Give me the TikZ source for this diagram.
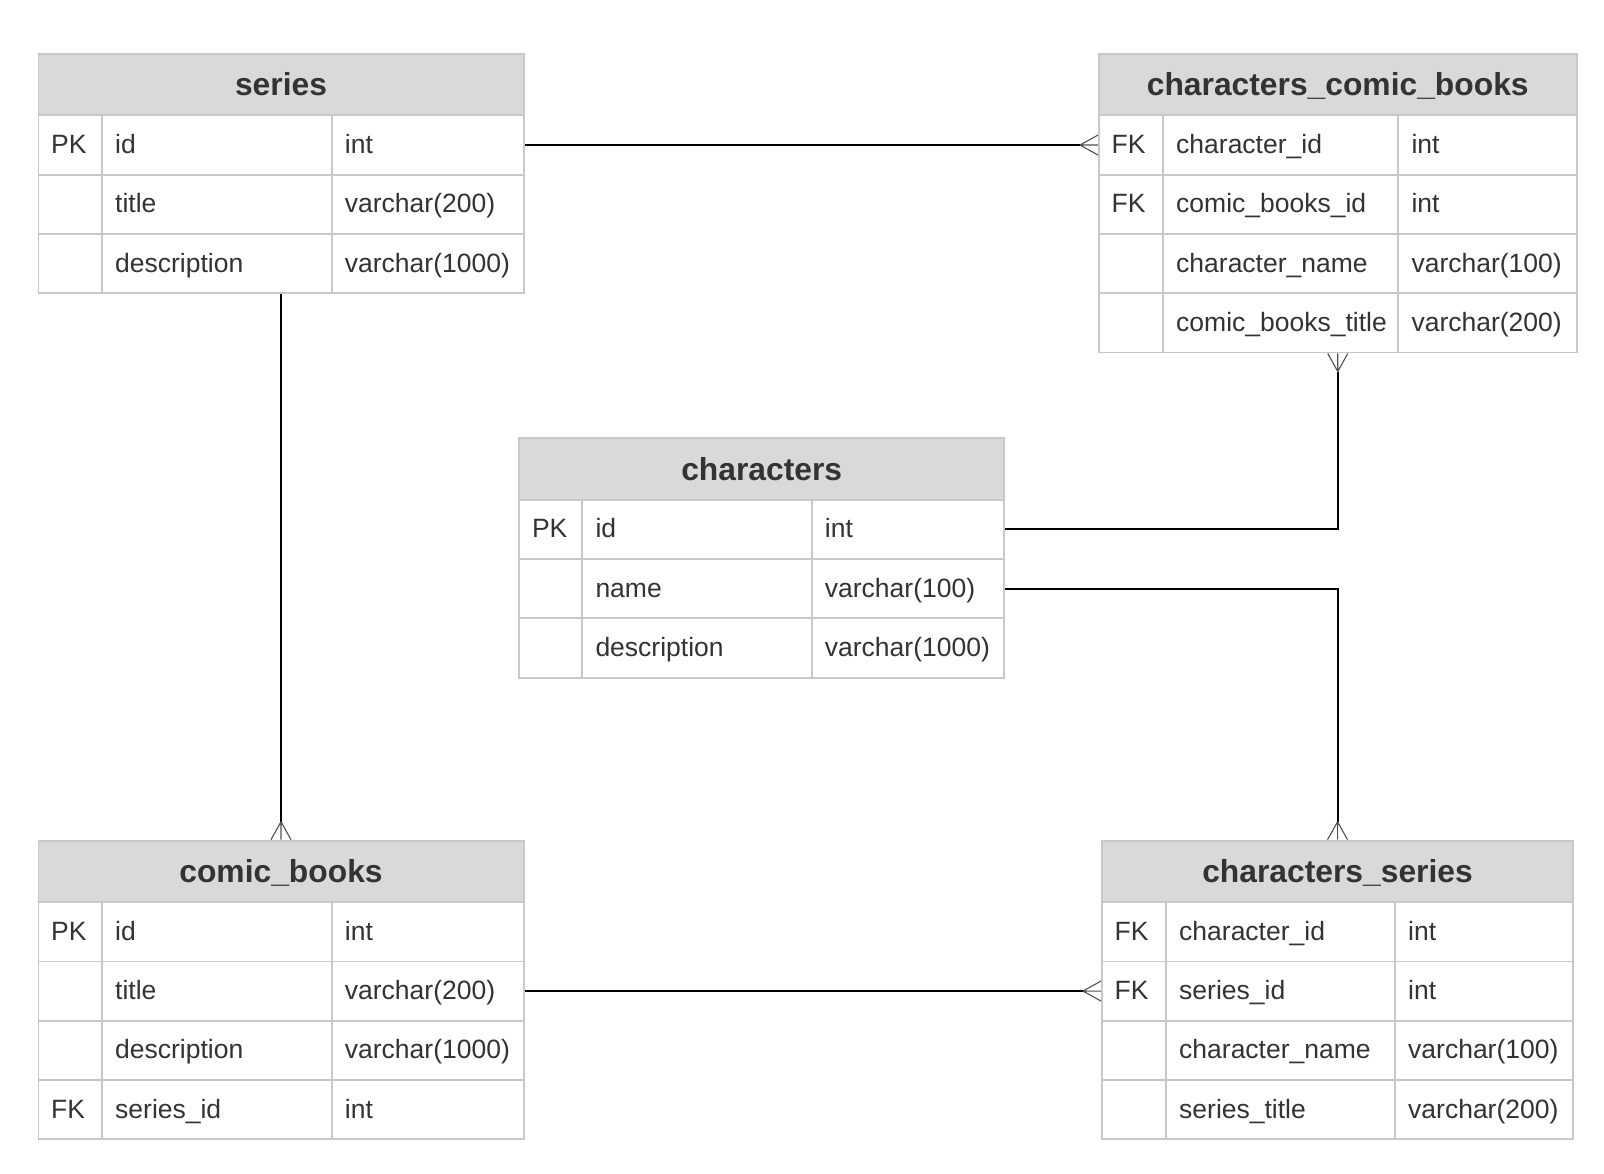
\documentclass[tikz,border=0pt]{standalone}
\usepackage{fontspec}
\setmainfont{Liberation Sans}
\definecolor{bordergray}{RGB}{200,200,200}
\definecolor{hdrgray}{RGB}{217,217,217}
\definecolor{txt}{RGB}{51,51,51}
\definecolor{footgray}{RGB}{80,80,80}
\tikzset{
  hdrbox/.style={draw=bordergray, fill=hdrgray, line width=1.8pt, anchor=north west, inner sep=0pt,
    font=\fontsize{31.8}{36}\selectfont\bfseries, text=txt, text height=22.7pt, text depth=0pt},
  rowbox/.style={draw=bordergray, fill=white, line width=1.8pt, anchor=north west, inner sep=0pt,
    minimum height=59.3pt},
  divider/.style={draw=bordergray, line width=1.8pt},
  celltext/.style={anchor=west, inner sep=0pt, font=\fontsize{26.5}{30}\selectfont, text=txt,
    text height=19pt, text depth=0pt},
  conn/.style={line width=2pt, black},
  foot/.style={line width=1.1pt, footgray},
}
% #1 name, #2 x0, #3 col1, #4 col2, #5 x1, #6 ytop, #7 title, #8 rows
\newcommand\ertable[8]{%
  \pgfmathsetmacro\tabw{#5-#2}%
  \node[hdrbox, minimum width=\tabw pt, minimum height=61.5pt] (#1h) at (#2,#6) {#7};
  \foreach \k/\f/\t [count=\i] in {#8} {
    \pgfmathsetmacro\rtop{#6+61.5+(\i-1)*59.3}
    \pgfmathsetmacro\rbot{#6+61.5+\i*59.3}
    \pgfmathsetmacro\rmid{#6+61.5+(\i-0.5)*59.3}
    \node[rowbox, minimum width=\tabw pt] (#1\i) at (#2,\rtop) {};
    \draw[divider] (#3,\rtop) -- (#3,\rbot) (#4,\rtop) -- (#4,\rbot);
    \node[celltext] (#1k\i) at ({#2+13.5},\rmid) {\k};
    \node[celltext] (#1f\i) at ({#3+13},\rmid) {\f};
    \node[celltext] (#1t\i) at ({#4+13},\rmid) {\t};
  }
}
\begin{document}
\begin{tikzpicture}[x=1pt,y=-1pt]
\fill[white] (0,0) rectangle (1604,1174);
\useasboundingbox (0,0) rectangle (1604,1174);

\ertable{s}{37.5}{102}{331.7}{522.7}{53}{series}{PK/id/int, /title/varchar(200), /description/varchar(1000)}
\ertable{c}{1098}{1163}{1398.3}{1575.7}{53}{characters\_comic\_books}{FK/character\_id/int, FK/comic\_books\_id/int, /character\_name/varchar(100), /comic\_books\_title/varchar(200)}
\ertable{h}{518.3}{582.3}{811.7}{1003.3}{437.3}{characters}{PK/id/int, /name/varchar(100), /description/varchar(1000)}
\ertable{b}{37.5}{102}{331.7}{522.7}{839.7}{comic\_books}{PK/id/int, /title/varchar(200), /description/varchar(1000), FK/series\_id/int}
\ertable{r}{1101}{1166}{1395}{1572.3}{839.7}{characters\_series}{FK/character\_id/int, FK/series\_id/int, /character\_name/varchar(100), /series\_title/varchar(200)}

% series.id -> characters_comic_books
\coordinate (f1) at ([xshift=-18pt]c1.west);
\draw[conn] (s1.east) -- (f1);
\draw[foot] (f1) -- ([yshift=10pt]c1.west) (f1) -- (c1.west) (f1) -- ([yshift=-10pt]c1.west);

% series -> comic_books
\coordinate (f2) at ([yshift=18pt]bh.north);
\draw[conn] (s3.south) -- (f2);
\draw[foot] (f2) -- ([xshift=-10pt]bh.north) (f2) -- (bh.north) (f2) -- ([xshift=10pt]bh.north);

% characters.id -> characters_comic_books
\coordinate (f3) at ([yshift=-18pt]c4.south);
\draw[conn] (h1.east) -| (f3);
\draw[foot] (f3) -- ([xshift=-10pt]c4.south) (f3) -- (c4.south) (f3) -- ([xshift=10pt]c4.south);

% characters.name -> characters_series
\coordinate (f4) at ([yshift=18pt]rh.north);
\draw[conn] (h2.east) -| (f4);
\draw[foot] (f4) -- ([xshift=-10pt]rh.north) (f4) -- (rh.north) (f4) -- ([xshift=10pt]rh.north);

% comic_books.title -> characters_series
\coordinate (f5) at ([xshift=-18pt]r2.west);
\draw[conn] (b2.east) -- (f5);
\draw[foot] (f5) -- ([yshift=10pt]r2.west) (f5) -- (r2.west) (f5) -- ([yshift=-10pt]r2.west);
\end{tikzpicture}
\end{document}
